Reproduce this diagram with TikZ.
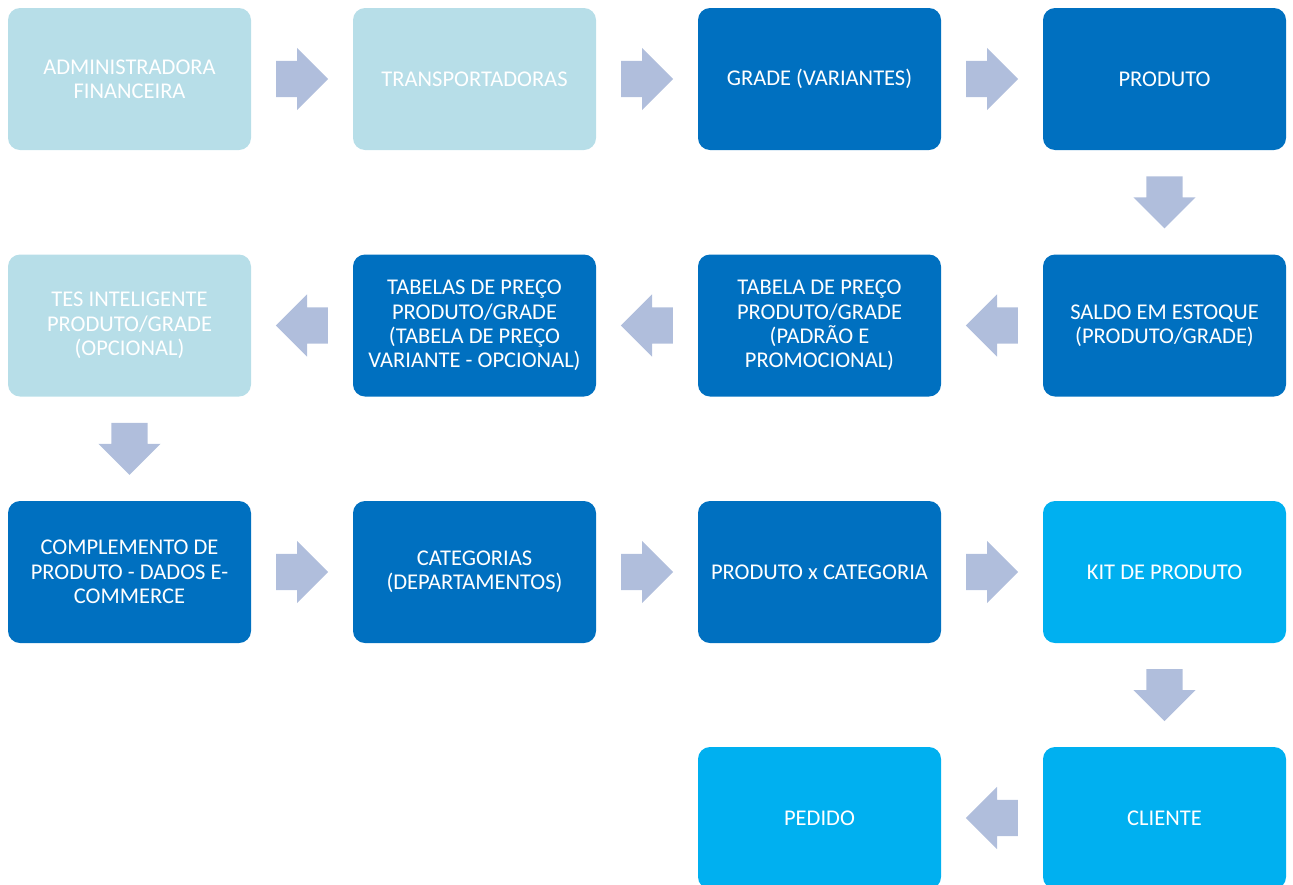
\documentclass[tikz,border=0pt]{standalone}
\usepackage{fontspec}
\setmainfont{Carlito}
\usetikzlibrary{positioning}
\usetikzlibrary{calc}
\usetikzlibrary{shapes.arrows}

\definecolor{lightbox}{HTML}{B7DEE8}
\definecolor{darkbox}{HTML}{0070C0}
\definecolor{cyanbox}{HTML}{00B0F0}
\definecolor{arrowfill}{HTML}{B0BEDC}

\begin{document}
\begin{tikzpicture}[x=1pt,y=-1pt]
	\tikzset{box/.style = {shape=rectangle, rounded corners=12pt, minimum width=243pt, minimum height=142pt, align=center, text=white, font=\fontsize{22.5}{24.3}\selectfont, inner sep=0pt}}
	\tikzset{lightstep/.style = {box, fill=lightbox}}
	\tikzset{darkstep/.style = {box, fill=darkbox}}
	\tikzset{cyanstep/.style = {box, fill=cyanbox}}
	\tikzset{blockarrow/.style = {single arrow, anchor=tail, fill=arrowfill, minimum height=52pt, minimum width=62pt, single arrow head extend=13pt, single arrow head indent=0pt, inner xsep=0pt, inner ysep=18pt}}
	\useasboundingbox (0,0) rectangle (1293,884);
	\clip (0,0) rectangle (1293,884);
	% row 1
	\node[lightstep] (ADM) at (129.5,79) {ADMINISTRADORA\\FINANCEIRA};
	\node[lightstep] (TRANSP) at (474.5,79) {TRANSPORTADORAS};
	\node[darkstep] (GRADE) at (819.5,79) {GRADE (VARIANTES)};
	\node[darkstep] (PROD) at (1164.5,79) {PRODUTO};
	% row 2
	\node[darkstep] (SALDO) at (1164.5,325.5) {SALDO EM ESTOQUE\\(PRODUTO/GRADE)};
	\node[darkstep] (TABPRECO) at (819.5,325.5) {TABELA DE PREÇO\\PRODUTO/GRADE\\(PADRÃO E\\PROMOCIONAL)};
	\node[darkstep] (TABVAR) at (474.5,325.5) {TABELAS DE PREÇO\\PRODUTO/GRADE\\(TABELA DE PREÇO\\VARIANTE - OPCIONAL)};
	\node[lightstep] (TES) at (129.5,325.5) {TES INTELIGENTE\\PRODUTO/GRADE\\(OPCIONAL)};
	% row 3
	\node[darkstep] (COMPL) at (129.5,572) {COMPLEMENTO DE\\PRODUTO - DADOS E-\\COMMERCE};
	\node[darkstep] (CATEG) at (474.5,572) {CATEGORIAS\\(DEPARTAMENTOS)};
	\node[darkstep] (PRODCAT) at (819.5,572) {PRODUTO x CATEGORIA};
	\node[cyanstep] (KIT) at (1164.5,572) {KIT DE PRODUTO};
	% row 4
	\node[cyanstep] (CLIENTE) at (1164.5,818) {CLIENTE};
	\node[cyanstep] (PEDIDO) at (819.5,818) {PEDIDO};
	% arrows between the steps (placed by their tails)
	\node[blockarrow] (a1) at ($(ADM.east)!0.5!(TRANSP.west)-(26,0)$) {};
	\node[blockarrow] (a2) at ($(TRANSP.east)!0.5!(GRADE.west)-(26,0)$) {};
	\node[blockarrow] (a3) at ($(GRADE.east)!0.5!(PROD.west)-(26,0)$) {};
	\node[blockarrow, rotate=270] (a4) at ($(PROD.south)!0.5!(SALDO.north)-(0,26)$) {};
	\node[blockarrow, rotate=180] (a5) at ($(SALDO.west)!0.5!(TABPRECO.east)+(26,0)$) {};
	\node[blockarrow, rotate=180] (a6) at ($(TABPRECO.west)!0.5!(TABVAR.east)+(26,0)$) {};
	\node[blockarrow, rotate=180] (a7) at ($(TABVAR.west)!0.5!(TES.east)+(26,0)$) {};
	\node[blockarrow, rotate=270] (a8) at ($(TES.south)!0.5!(COMPL.north)-(0,26)$) {};
	\node[blockarrow] (a9) at ($(COMPL.east)!0.5!(CATEG.west)-(26,0)$) {};
	\node[blockarrow] (a10) at ($(CATEG.east)!0.5!(PRODCAT.west)-(26,0)$) {};
	\node[blockarrow] (a11) at ($(PRODCAT.east)!0.5!(KIT.west)-(26,0)$) {};
	\node[blockarrow, rotate=270] (a12) at ($(KIT.south)!0.5!(CLIENTE.north)-(0,26)$) {};
	\node[blockarrow, rotate=180] (a13) at ($(CLIENTE.west)!0.5!(PEDIDO.east)+(26,0)$) {};
\end{tikzpicture}
\end{document}
